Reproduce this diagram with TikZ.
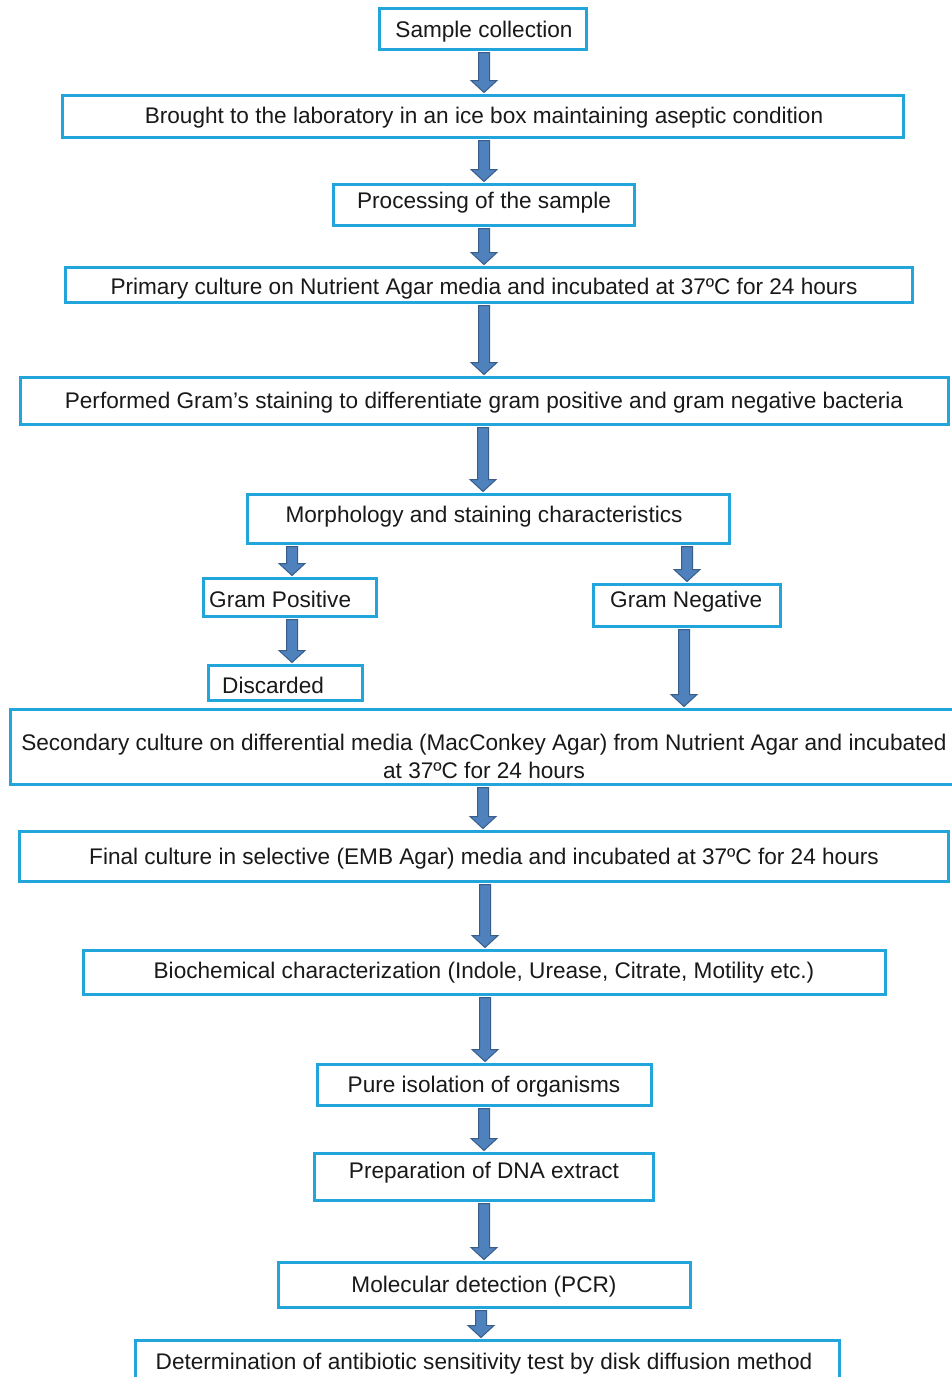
\documentclass[tikz,border=0pt]{standalone}
\usepackage{fontspec}
\setmainfont{Liberation Sans}
\usetikzlibrary{calc}
\definecolor{boxcol}{RGB}{33,165,218}
\definecolor{arrfill}{RGB}{79,129,189}
\definecolor{arrline}{RGB}{56,93,138}
\tikzset{
  box/.style={draw=boxcol, line width=3pt, inner sep=0pt, fill=white},
  lbl/.style={inner sep=0pt, anchor=base, font=\fontsize{22.6}{27}\selectfont, text=black!90},
  arrsty/.style={fill=arrfill, draw=arrline, line width=1pt, line join=miter}
}
% block arrow: #1 = x position, #2 = from node, #3 = to node
\newcommand\barrow[3]{%
  \path[arrsty] let \p1=(#2.south), \p2=(#3.north) in
    (#1-5.5pt,\y1-2pt) -- (#1+5.5pt,\y1-2pt) -- (#1+5.5pt,\y2+13pt) -- (#1+13pt,\y2+13pt)
    -- (#1,\y2+1pt) -- (#1-13pt,\y2+13pt) -- (#1-5.5pt,\y2+13pt) -- cycle;}
% box: name, x1, y1, x2, y2
\newcommand\bx[5]{\node[box, minimum width={#4-#2}, minimum height={#5-#3}] (#1) at ({(#2+#4)/2},{(#3+#5)/2}) {};}
\begin{document}
\begin{tikzpicture}[x=1pt,y=-1pt]
\useasboundingbox (0,0) rectangle (952,1377);
\fill[white] (0,0) rectangle (952,1377);
\clip (0,0) rectangle (952,1377);
\bx{b1}{379}{8}{586}{49}
\bx{b2}{62}{95}{903}{137}
\bx{b3}{333}{184}{634}{225}
\bx{b4}{65}{267}{912}{302}
\bx{b5}{20}{377}{948}{424}
\bx{b6}{247}{494}{729}{543}
\bx{b7}{203}{578}{376}{616}
\bx{b8}{593}{584}{780}{626}
\bx{b9}{208}{665}{362}{700}
\bx{b10}{10}{709}{953}{784}
\bx{b11}{19}{831}{948}{881}
\bx{b12}{83}{950}{885}{994}
\bx{b13}{317}{1064}{651}{1105}
\bx{b14}{314}{1153}{653}{1200}
\bx{b15}{278}{1262}{690}{1307}
\bx{b16}{135}{1340}{839}{1390}

\node[lbl] (t1) at (484,37) {Sample collection};
\node[lbl] (t2) at (484,123) {Brought to the laboratory in an ice box maintaining aseptic condition};
\node[lbl] (t3) at (484,208) {Processing of the sample};
\node[lbl] (t4) at (484,294) {Primary culture on Nutrient Agar media and incubated at 37ºC for 24 hours};
\node[lbl] (t5) at (484,408) {Performed Gram’s staining to differentiate gram positive and gram negative bacteria};
\node[lbl] (t6) at (484,522) {Morphology and staining characteristics};
\node[lbl, anchor=base west] (t7) at (209,607) {Gram Positive};
\node[lbl, anchor=base west] (t8) at (610,607) {Gram Negative};
\node[lbl, anchor=base west] (t9) at (222,693) {Discarded};
\node[lbl] (t10a) at (484,750) {Secondary culture on differential media (MacConkey Agar) from Nutrient Agar and incubated};
\node[lbl] (t10b) at (484,778) {at 37ºC for 24 hours};
\node[lbl] (t11) at (484,864) {Final culture in selective (EMB Agar) media and incubated at 37ºC for 24 hours};
\node[lbl] (t12) at (484,978) {Biochemical characterization (Indole, Urease, Citrate, Motility etc.)};
\node[lbl] (t13) at (484,1092) {Pure isolation of organisms};
\node[lbl] (t14) at (484,1178) {Preparation of DNA extract};
\node[lbl] (t15) at (484,1292) {Molecular detection (PCR)};
\node[lbl] (t16) at (484,1369) {Determination of antibiotic sensitivity test by disk diffusion method};

\barrow{484}{b1}{b2}
\barrow{484}{b2}{b3}
\barrow{484}{b3}{b4}
\barrow{484}{b4}{b5}
\barrow{483}{b5}{b6}
\barrow{292}{b6}{b7}
\barrow{687}{b6}{b8}
\barrow{292}{b7}{b9}
\barrow{684}{b8}{b10}
\barrow{483}{b10}{b11}
\barrow{485}{b11}{b12}
\barrow{485}{b12}{b13}
\barrow{484}{b13}{b14}
\barrow{484}{b14}{b15}
\barrow{481}{b15}{b16}
\end{tikzpicture}
\end{document}
